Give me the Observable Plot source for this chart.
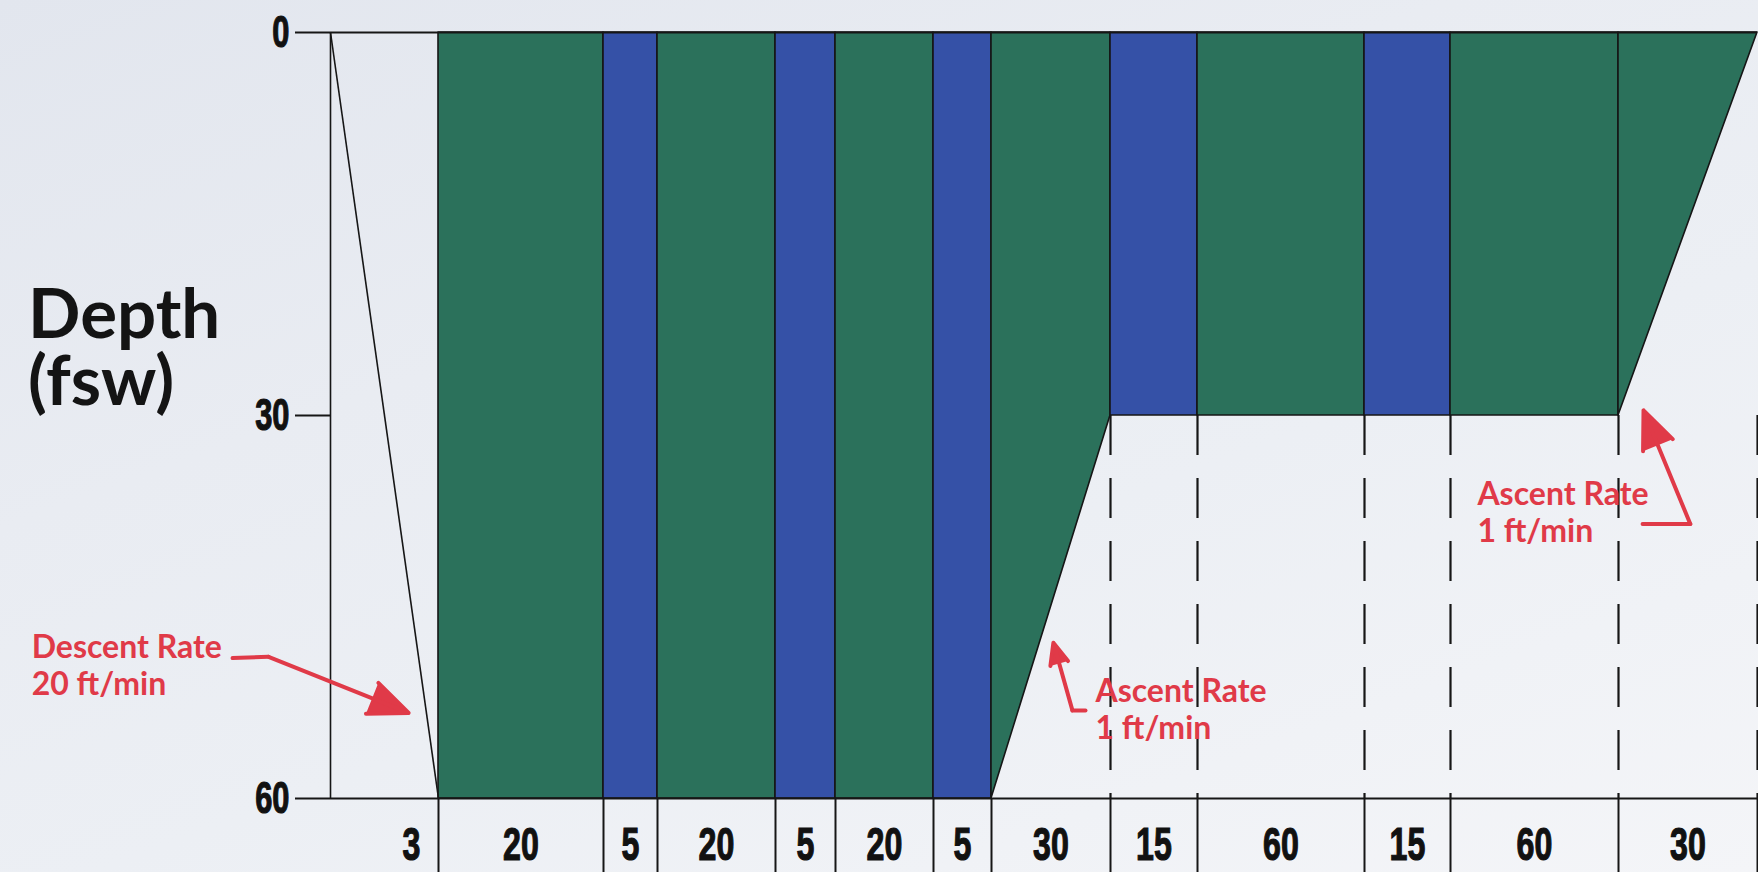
<!DOCTYPE html>
<html>
<head>
<meta charset="utf-8">
<script src="https://cdn.jsdelivr.net/npm/d3@7"></script>
<script src="https://cdn.jsdelivr.net/npm/@observablehq/plot@0.6"></script>
<style>
  html, body { margin: 0; padding: 0; }
  body {
    width: 1758px; height: 872px; overflow: hidden;
    background: linear-gradient(160deg, #e2e6ee 0%, #e9ecf2 35%, #eceff4 60%, #f4f5f8 100%);
  }
  #chart svg { display: block; }
</style>
</head>
<body>
<div id="chart"></div>
<script>
// ---------------- data ----------------
// Treatment profile: segment durations (minutes), gas breathed, depth (fsw) at each segment boundary
const segmentMinutes = [3, 20, 5, 20, 5, 20, 5, 30, 15, 60, 15, 60, 30];
const segmentGas = ["descent", "O2", "air", "O2", "air", "O2", "air", "O2", "air", "O2", "air", "O2", "O2"];
const boundaryDepth = [0, 60, 60, 60, 60, 60, 60, 60, 30, 30, 30, 30, 30, 0];
const depthTicks = [0, 30, 60];
const axisTitle = "Depth\n(fsw)";

// Annotations (text, anchor in minutes / fsw) and arrow polylines ending at the arrow tip
const annotationText = ["Descent Rate\n20 ft/min", "Ascent Rate\n1 ft/min", "Ascent Rate\n1 ft/min"];
const annotationTime = [-8.3, 104.2, 207.6];
const annotationDepth = [46.9, 50.35, 34.9];
const arrowPaths = [
  [[-2.72, 49.0], [-1.72, 48.9], [2.17, 53.3]],
  [[101.7, 53.1], [98.4, 53.1], [93.6, 47.8]],
  [[263.2, 38.5], [273.5, 38.5], [263.4, 29.6]]
];

// ---------------- derived tables ----------------
const boundaries = [0];
segmentMinutes.forEach(m => boundaries.push(boundaries[boundaries.length - 1] + m));
const segments = segmentMinutes.map((m, i) => ({
  i, t0: boundaries[i], t1: boundaries[i + 1],
  d0: boundaryDepth[i], d1: boundaryDepth[i + 1],
  gas: segmentGas[i], label: String(m)
}));
const areaPts = segments.filter(s => s.gas !== "descent").flatMap(s => [
  {seg: s.i, t: s.t0, d: s.d0, gas: s.gas},
  {seg: s.i, t: s.t1, d: s.d1, gas: s.gas}
]);
const maxDepth = d3.max(boundaryDepth);
const stopIndex = boundaryDepth.indexOf(30); // start of the 30 fsw stop
const stopDepth = boundaryDepth[stopIndex];
const dashedTimes = boundaries.slice(stopIndex);
const annotations = annotationText.map((text, i) => ({text, t: annotationTime[i], d: annotationDepth[i]}));
const arrowLeads = arrowPaths.flatMap((p, k) => p.slice(0, -1).map(([t, d]) => ({k, t, d})));
const arrowHeads = arrowPaths.map(p => ({
  t1: p[p.length - 2][0], d1: p[p.length - 2][1],
  t2: p[p.length - 1][0], d2: p[p.length - 1][1]
}));

// ---------------- layout / style ----------------
const W = 1758, H = 872;
const xBoundaryPx = [330, 438, 603, 657, 775, 835, 933, 991, 1110, 1197, 1364, 1450, 1618, 1757];
const yRangePx = [32, 798];
const GREEN = "#2b715b", BLUE = "#3551a7", RED = "#e03a48", INK = "#161616";
const numFont = "'Liberation Sans', Arial, sans-serif";
const textFont = "Lato, 'Open Sans', sans-serif";

const plot = Plot.plot({
  width: W, height: H,
  marginLeft: 330, marginRight: 1, marginTop: 0, marginBottom: 0,
  style: {background: "transparent", overflow: "visible"},
  x: {type: "linear", domain: boundaries, range: xBoundaryPx, axis: null},
  y: {domain: [0, maxDepth], range: yRangePx, axis: null},
  color: {domain: ["O2", "air"], range: [GREEN, BLUE]},
  marks: [
    // segments
    Plot.areaY(areaPts, {x: "t", y1: 0, y2: "d", z: "seg", fill: "gas", stroke: INK, strokeWidth: 1.6}),
    // descent line and left edge
    Plot.link([segments[0]], {x1: "t0", y1: "d0", x2: "t1", y2: "d1", stroke: INK, strokeWidth: 1.6}),
    Plot.ruleX([boundaries[0]], {y1: 0, y2: maxDepth, stroke: INK, strokeWidth: 1.6}),
    // surface and bottom lines
    Plot.ruleY(d3.extent(boundaryDepth), {stroke: INK, strokeWidth: 2.2}),
    // dashed guides below the 30 fsw stop
    Plot.ruleX(dashedTimes, {y1: stopDepth, y2: maxDepth, stroke: INK, strokeWidth: 2.2, strokeDasharray: "40,23"}),
    // separators under the time axis (run to the bottom edge)
    Plot.ruleX(boundaries.slice(1), {y1: maxDepth, y2: maxDepth, insetBottom: -(H - yRangePx[1]), stroke: INK, strokeWidth: 2}),
    // depth axis
    Plot.axisY(depthTicks, {tickSize: 35, tickPadding: 6, strokeWidth: 2.2, stroke: INK,
      fontSize: 44, fontWeight: "bold", fontFamily: numFont, label: null}),
    // duration labels
    Plot.text(segments.slice(1), {x: d => (d.t0 + d.t1) / 2, y: maxDepth, text: "label", dy: 47,
      fontSize: 46, fontWeight: "bold", fontFamily: numFont, fill: "#111"}),
    Plot.text([segments[0]], {x: "t1", y: maxDepth, text: "label", dy: 47, dx: -18, textAnchor: "end",
      fontSize: 46, fontWeight: "bold", fontFamily: numFont, fill: "#111"}),
    // axis title
    Plot.text([axisTitle], {x: -8.4, y: 20.2, text: d => d, textAnchor: "start", lineAnchor: "top",
      lineHeight: 0.97, fontSize: 69, fontWeight: 700, fontFamily: textFont, fill: "#141414"}),
    // annotations
    Plot.line(arrowLeads, {x: "t", y: "d", z: "k", stroke: RED, strokeWidth: 4, strokeLinejoin: "round", strokeLinecap: "round"}),
    Plot.arrow(arrowHeads, {x1: "t1", y1: "d1", x2: "t2", y2: "d2", stroke: RED, fill: RED, strokeWidth: 4,
      headLength: 16, headAngle: 46, strokeLinejoin: "miter"}),
    Plot.text(annotations, {x: "t", y: "d", text: "text", textAnchor: "start", lineAnchor: "top",
      lineHeight: 1.17, fontSize: 32, fontWeight: 700, fontFamily: textFont, fill: RED})
  ]
});
document.getElementById("chart").appendChild(plot);

// condensed heavy numerals: squeeze every purely numeric label horizontally about its anchor
const SQUEEZE = 0.7;
const SVGNS = "http://www.w3.org/2000/svg";
Array.from(plot.querySelectorAll("text")).forEach(t => {
  if (!/^\d+$/.test(t.textContent.trim())) return;
  const g = document.createElementNS(SVGNS, "g");
  t.parentNode.insertBefore(g, t);
  g.appendChild(t);
  const b = g.getBBox();
  const anchor = getComputedStyle(t).textAnchor;
  const ax = anchor === "end" ? b.x + b.width : anchor === "start" ? b.x : b.x + b.width / 2;
  g.setAttribute("transform", `translate(${ax},0) scale(${SQUEEZE},1) translate(${-ax},0)`);
  t.setAttribute("stroke", "#111");
  t.setAttribute("stroke-width", "1.2");
  t.setAttribute("fill", "#111");
});
</script>
</body>
</html>
